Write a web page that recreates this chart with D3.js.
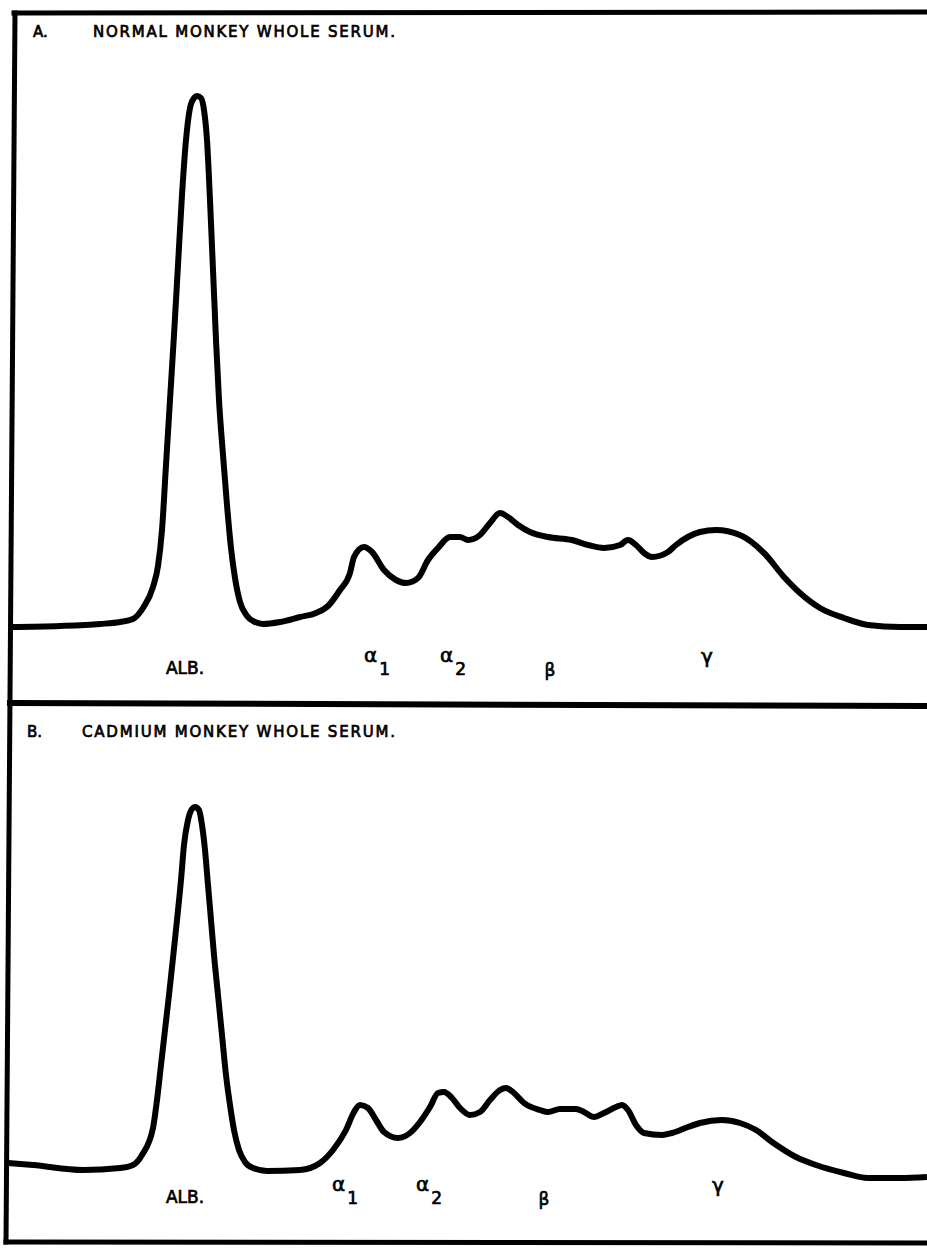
<!DOCTYPE html>
<html>
<head>
<meta charset="utf-8">
<script src="https://cdn.jsdelivr.net/npm/d3@7"></script>
<style>
  body { margin: 0; background: #fff; }
  text { font-family: "DejaVu Sans", sans-serif; fill: #000; }
</style>
</head>
<body>
<div class="graphContainer"></div>
<script>
// page size
const w = 927;
const h = 1252;

// scan trace of the normal serum: position along strip / optical density
const normalPos = [0.5, 13, 23, 28, 31.25, 33.75, 36.25, 37.5, 38.5, 39.5, 40.5, 41.5, 42.5, 43.5, 44.5, 45.5, 46.5, 47.25,
                   48.25, 49, 49.75, 50.5, 51.25, 52, 52.75, 53.75, 54.75, 55.75, 56.75, 58, 59.75, 61.75, 63.75, 68, 73, 77, 80, 83,
                   85.5, 86.5, 89, 91, 94, 97, 99.5, 102.5, 105, 107.5, 110.5, 113, 115, 118, 120.5, 123, 125, 127.5,
                   130.5, 135, 141, 145, 149, 153, 155, 157, 159, 161, 165, 167, 173, 177, 183, 189, 194, 198, 203,
                   209, 215, 223, 229.75];
const normalOD = [0.6, 0.8, 1.2, 1.6, 2.2, 4.4, 8.6, 12.8, 20, 33, 46, 59, 73, 87, 98, 104.4, 106.4, 106.8,
                  106.4, 104, 98, 86, 72, 58, 46, 35, 25, 16.4, 10.4, 5.6, 2.8, 1.6, 1.2, 1.6, 2.6, 3.4, 4.8, 8,
                  11.4, 14.6, 16.6, 15.6, 12, 10, 9.4, 10.4, 14, 16.4, 18.6, 18.6, 18, 19, 21.4, 23.4, 22.6, 21,
                  19.6, 18.6, 18, 17, 16.4, 17, 18, 17, 15.4, 14.6, 15.6, 17, 19.6, 20, 19, 15.4, 10.6, 7.4, 4.4,
                  2.4, 1, 0.6, 0.6];

// scan trace of the cadmium serum
const cadmiumPos = [0, 6.25, 18.75, 28, 31.25, 33.5, 36.25, 37.25, 38.25, 39.25, 40.25, 41.25, 42.25, 43.25, 44, 45,
                    46, 46.75, 47.75, 48.5, 49.25, 50, 50.75, 51.5, 52.5, 53.5, 54.5, 55.5, 56.5, 57.75, 59.25, 61.25, 64.75,
                    73, 78, 81.25, 84.5, 86.5, 88, 90, 92, 94, 97.5, 100.5, 103, 105.5, 107.5, 109, 111, 113, 115.5,
                    118, 120.5, 123, 124.5, 126.5, 129, 133, 135, 138, 142, 144, 146.5, 149, 152, 153.5, 155, 157,
                    159, 163.5, 166, 170, 173, 178.5, 183, 187, 191, 197, 202, 209, 215, 223, 229.75];
const cadmiumOD = [3.4, 3, 2, 2.4, 3, 5, 10.4, 16, 23, 30, 37, 44.4, 52, 60, 67, 72,
                   74.2, 74.6, 74, 71, 66, 59, 52, 45, 37, 29, 21, 15, 10, 6, 3.6, 2.4, 1.8,
                   2, 3.4, 6, 10, 13.6, 15, 14.4, 12, 9.6, 8.4, 9.4, 11.6, 14.6, 17.4, 17.6, 16.4, 14.4, 13,
                   13.6, 16, 18, 18.4, 17.4, 15.4, 14, 13.6, 14.2, 14.2, 13.6, 12.6, 13.4, 14.6, 15, 14, 11,
                   9.4, 9, 9.4, 10.6, 11.4, 12, 11.4, 10, 7.6, 4.6, 3, 1.4, 0.4, 0.4, 0.6];

// fraction labels under each trace
const bandNames = ["ALB.", "\u03b1", "\u03b1", "\u03b2", "\u03b3"];
const bandSubs = ["", "1", "2", "", ""];
const normalBandPos = [44.25, 91, 110, 135.5, 174.75];
const cadmiumBandPos = [44.25, 83, 104, 134, 177.5];

const titles = ["NORMAL MONKEY WHOLE SERUM.", "CADMIUM MONKEY WHOLE SERUM."];
const panelLetters = ["A.", "B."];

const svg = d3.select(".graphContainer").append("svg")
  .attr("width", w)
  .attr("height", h);

const xScale = d3.scaleLinear().domain([0, 230]).range([8, 928]);
const yScaleA = d3.scaleLinear().domain([0, 110]).range([630, 80]);
const yScaleB = d3.scaleLinear().domain([0, 110]).range([1180, 630]);

// frame lines (no right edge in the original)
const frame = svg.append("g")
  .attr("stroke", "#000")
  .attr("stroke-width", 5)
  .attr("stroke-linecap", "square")
  .attr("fill", "none");
frame.append("line").attr("x1", 14).attr("y1", 13).attr("x2", 927).attr("y2", 12);
frame.append("line").attr("x1", 15).attr("y1", 13).attr("x2", 6).attr("y2", 1242);
frame.append("line").attr("x1", 10).attr("y1", 703).attr("x2", 927).attr("y2", 706).attr("stroke-width", 6);
frame.append("line").attr("x1", 6).attr("y1", 1242).attr("x2", 927).attr("y2", 1243);

function drawPanel(pos, od, yScale, bandPos, base, titleY, letterX, titleX, i) {
  const pts = pos.map((d, k) => [d, od[k]]);
  const line = d3.line()
    .x(d => xScale(d[0]))
    .y(d => yScale(d[1]))
    .curve(d3.curveMonotoneX);

  svg.append("path")
    .datum(pts)
    .attr("d", line)
    .attr("fill", "none")
    .attr("stroke", "#000")
    .attr("stroke-width", 6)
    .attr("stroke-linejoin", "round")
    .attr("stroke-linecap", "butt");

  // titles
  svg.append("text")
    .attr("x", letterX).attr("y", titleY)
    .style("font-size", "15px")
    .style("stroke", "#000").style("stroke-width", 0.7)
    .text(panelLetters[i]);
  svg.append("text")
    .attr("x", titleX).attr("y", titleY)
    .attr("textLength", 395 - titleX)
    .attr("lengthAdjust", "spacing")
    .style("font-size", "15px")
    .style("stroke", "#000").style("stroke-width", 0.7)
    .text(titles[i]);

  // band labels
  bandNames.forEach((name, k) => {
    let y = base;
    let size = 17;
    if (name === "\u03b1") { y = base - 12; size = 20; }
    if (name === "\u03b2") { y = base + 2; size = 17; }
    if (name === "\u03b3") { y = base - 11; size = 20; }
    const t = svg.append("text")
      .attr("x", xScale(bandPos[k]))
      .attr("y", y)
      .attr("text-anchor", bandSubs[k] ? "start" : "middle")
      .attr("dx", bandSubs[k] ? -8 : 0)
      .style("font-size", size + "px")
      .style("stroke", "#000").style("stroke-width", 0.7)
      .text(name);
    if (bandSubs[k]) {
      t.append("tspan")
        .attr("dx", 2)
        .attr("dy", 13)
        .style("font-size", "17px")
        .text(bandSubs[k]);
    }
  });
}

drawPanel(normalPos, normalOD, yScaleA, normalBandPos, 674, 37, 33, 93, 0);
drawPanel(cadmiumPos, cadmiumOD, yScaleB, cadmiumBandPos, 1203, 737, 27, 82, 1);
</script>
</body>
</html>
